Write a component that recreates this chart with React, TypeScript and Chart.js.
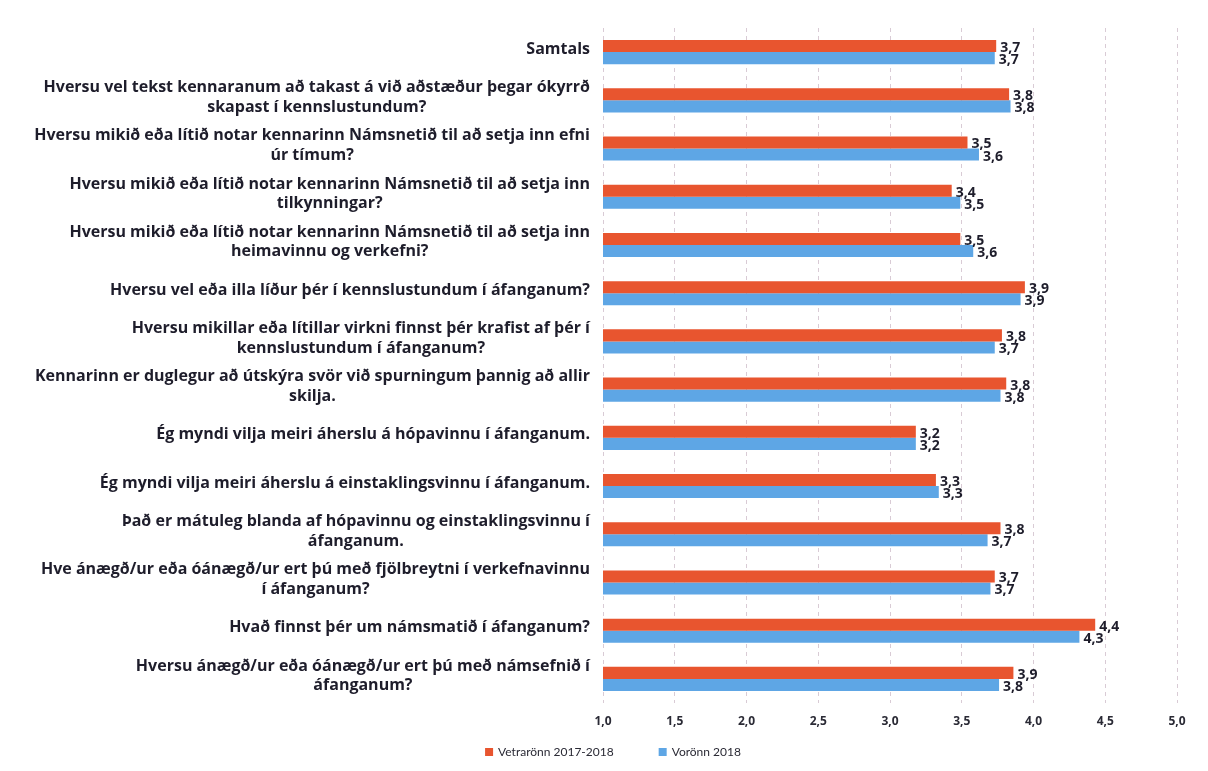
import React, { useEffect, useRef } from 'react';
import { Chart, registerables } from 'chart.js';

Chart.register(...registerables);

const categories: string[][] = [
  ['Samtals'],
  ['Hversu vel tekst kennaranum að takast á við aðstæður þegar ókyrrð', 'skapast í kennslustundum?'],
  ['Hversu mikið eða lítið notar kennarinn Námsnetið til að setja inn efni', 'úr tímum?'],
  ['Hversu mikið eða lítið notar kennarinn Námsnetið til að setja inn', 'tilkynningar?'],
  ['Hversu mikið eða lítið notar kennarinn Námsnetið til að setja inn', 'heimavinnu og verkefni?'],
  ['Hversu vel eða illa líður þér í kennslustundum í áfanganum?'],
  ['Hversu mikillar eða lítillar virkni finnst þér krafist af þér í', 'kennslustundum í áfanganum?'],
  ['Kennarinn er duglegur að útskýra svör við spurningum þannig að allir', 'skilja.'],
  ['Ég myndi vilja meiri áherslu á hópavinnu í áfanganum.'],
  ['Ég myndi vilja meiri áherslu á einstaklingsvinnu í áfanganum.'],
  ['Það er mátuleg blanda af hópavinnu og einstaklingsvinnu í', 'áfanganum.'],
  ['Hve ánægð/ur eða óánægð/ur ert þú með fjölbreytni í verkefnavinnu', 'í áfanganum?'],
  ['Hvað finnst þér um námsmatið í áfanganum?'],
  ['Hversu ánægð/ur eða óánægð/ur ert þú með námsefnið í', 'áfanganum?'],
];

const vetraronn: number[] = [3.74, 3.83, 3.54, 3.43, 3.49, 3.94, 3.78, 3.81, 3.18, 3.32, 3.77, 3.73, 4.43, 3.86];
const voronn: number[] = [3.73, 3.84, 3.62, 3.49, 3.58, 3.91, 3.73, 3.77, 3.18, 3.34, 3.68, 3.70, 4.32, 3.76];

const xTicks: number[] = [1, 1.5, 2, 2.5, 3, 3.5, 4, 4.5, 5];
const seriesNames: string[] = ['Vetrarönn 2017-2018', 'Vorönn 2018'];

const RED = '#E8552F';
const BLUE = '#5EA6E5';
const FAMILY = '"Open Sans", Lato, sans-serif';
const LABEL_FONT = `bold 16px ${FAMILY}`;
const VALUE_FONT = `bold 14px ${FAMILY}`;
const LEGEND_FONT = '12px Lato, sans-serif';
const TEXT_COLOR = '#1e1d2b';

const fmt = (v: number) => v.toFixed(1).replace('.', ',');

const labelPlugin = {
  id: 'customLabels',
  afterDraw(chart: any) {
    const ctx = chart.ctx;
    const yScale = chart.scales.y;
    const area = chart.chartArea;
    ctx.save();
    // category labels (centered lines, right-aligned block)
    ctx.font = LABEL_FONT;
    ctx.fillStyle = TEXT_COLOR;
    ctx.textAlign = 'center';
    ctx.textBaseline = 'middle';
    const right = area.left - 13;
    const lh = 19.5;
    categories.forEach((lines, i) => {
      const yc = yScale.getPixelForValue(i) - 3;
      const w = Math.max(...lines.map((l) => ctx.measureText(l).width));
      const cx = right - w / 2;
      lines.forEach((l, j) => {
        ctx.fillText(l, cx, yc + (j - (lines.length - 1) / 2) * lh);
      });
    });
    // value labels
    ctx.font = VALUE_FONT;
    ctx.textAlign = 'left';
    chart.data.datasets.forEach((ds: any, di: number) => {
      const meta = chart.getDatasetMeta(di);
      meta.data.forEach((bar: any, i: number) => {
        ctx.fillText(fmt(ds.data[i]), bar.x + 4, bar.y + 2);
      });
    });
    // legend
    ctx.font = LEGEND_FONT;
    const box = 8;
    const gapBoxText = 5;
    const gapItems = 45;
    const items = chart.data.datasets.map((ds: any) => ({
      text: ds.label,
      color: ds.backgroundColor,
      w: box + gapBoxText + ctx.measureText(ds.label).width,
    }));
    const total = items.reduce((s: number, it: any) => s + it.w, 0) + gapItems * (items.length - 1);
    let x = 613 - total / 2;
    const ly = chart.height - 19;
    items.forEach((it: any) => {
      ctx.fillStyle = it.color;
      ctx.fillRect(x, ly - box / 2, box, box);
      ctx.fillStyle = '#2a2a35';
      ctx.fillText(it.text, x + box + gapBoxText, ly);
      x += it.w + gapItems;
    });
    ctx.restore();
  },
};

export default function App() {
  const ref = useRef<HTMLCanvasElement | null>(null);
  useEffect(() => {
    if (!ref.current) return;
    const chart = new Chart(ref.current, {
      type: 'bar',
      data: {
        labels: categories.map((l) => l.join(' ')),
        datasets: [
          { label: seriesNames[0], data: vetraronn, backgroundColor: RED, barPercentage: 1, categoryPercentage: 0.5 },
          { label: seriesNames[1], data: voronn, backgroundColor: BLUE, barPercentage: 1, categoryPercentage: 0.5 },
        ],
      },
      options: {
        indexAxis: 'y',
        animation: false,
        responsive: true,
        maintainAspectRatio: false,
        layout: { padding: { top: 28, right: 31, bottom: 0, left: 0 } },
        scales: {
          x: {
            min: 1,
            max: 5,
            afterBuildTicks: (s: any) => {
              s.ticks = xTicks.map((v) => ({ value: v }));
            },
            afterFit: (s: any) => {
              s.height = 68;
            },
            ticks: {
              callback: (v: any) => fmt(Number(v)),
              font: { family: FAMILY, size: 12, weight: 'bold' },
              color: '#2a2a35',
              padding: 11,
            },
            grid: { color: '#d9cbd5', drawTicks: false, lineWidth: 1 },
            border: { display: false, dash: [4, 4] },
          },
          y: {
            ticks: { display: false },
            grid: { display: false },
            border: { display: false },
            afterFit: (s: any) => {
              s.width = 603;
            },
          },
        },
        plugins: {
          legend: { display: false },
          tooltip: { enabled: false },
        },
      },
      plugins: [labelPlugin],
    });
    return () => chart.destroy();
  }, []);
  return (
    <div style={{ position: 'fixed', left: 0, top: 0, width: 1208, height: 771, background: '#fff' }}>
      <canvas ref={ref} />
    </div>
  );
}
